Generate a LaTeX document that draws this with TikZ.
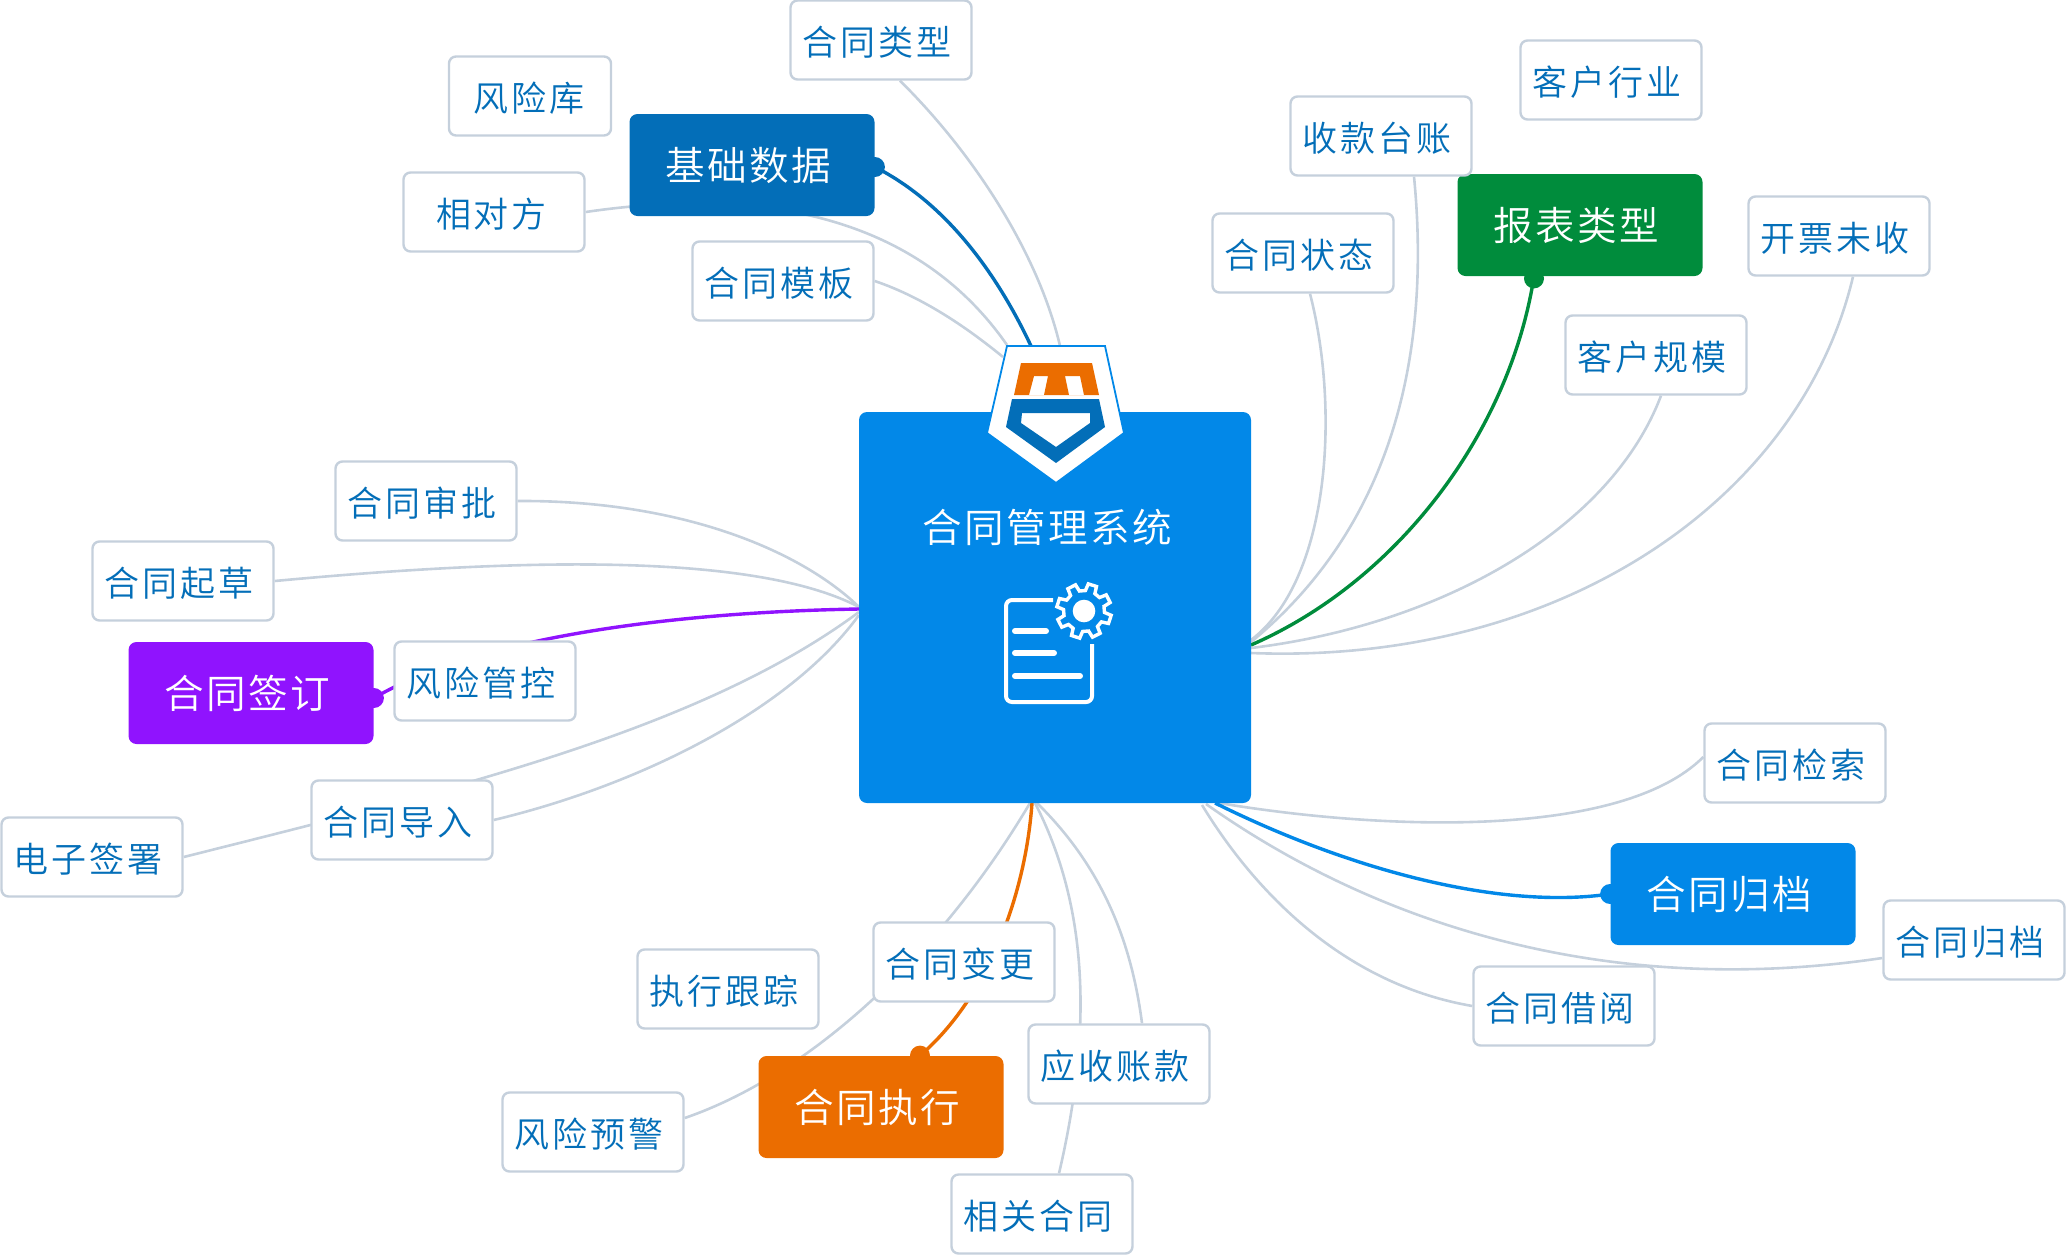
\documentclass[tikz,border=0pt]{standalone}
\usepackage{fontspec}
\newfontfamily\leaffam[LetterSpace=8]{Noto Sans CJK SC DemiLight}
\newfontfamily\mainfam[LetterSpace=6]{Noto Sans CJK SC DemiLight}
\newcommand{\leaffs}{\leaffam\fontsize{17.5pt}{20pt}\selectfont}
\newcommand{\mainfs}{\mainfam\fontsize{19.8pt}{22pt}\selectfont}
\definecolor{gline}{HTML}{C5D0DC}
\definecolor{dblue}{HTML}{036EB8}
\definecolor{lblue}{HTML}{0288E8}
\definecolor{cgreen}{HTML}{008C3C}
\definecolor{cpurple}{HTML}{9013FE}
\definecolor{corange}{HTML}{EB6D00}
\pgfdeclarelayer{lines}
\pgfsetlayers{lines,main}
\tikzset{
  leaf/.style={draw=gline,fill=white,rounded corners=3.5pt,minimum width=90.5pt,minimum height=39.5pt,line width=1.2pt,inner sep=0pt,text=dblue,font=\leaffs,text height=17pt,text depth=2pt,execute at end node={\hspace{4pt}}},
  hub/.style={rounded corners=4pt,minimum width=122.5pt,minimum height=51pt,inner sep=0pt,text=white,font=\mainfs,text height=17.7pt,text depth=2pt,execute at end node={\hspace{4pt}}},
  glink/.style={draw=gline,line width=1.3pt},
  clink/.style={line width=1.7pt},
}
\begin{document}
\begin{tikzpicture}[x=0.5pt,y=-0.5pt]
\useasboundingbox (0,0) rectangle (2066,1254);
\coordinate (cW1) at (859,607);
\coordinate (cW2) at (859,609);
\coordinate (cW3) at (859,612);
\coordinate (cW4) at (859,615);
\coordinate (cE1) at (1251,640);
\coordinate (cE2) at (1251,642);
\coordinate (cE3) at (1251,645);
\coordinate (cE4) at (1251,648);
\coordinate (cE5) at (1251,653);
\coordinate (cS1) at (1030,803);
\coordinate (cS2) at (1032,803);
\coordinate (cS3) at (1035,803);
\coordinate (cS4) at (1037,803);
\coordinate (cS5) at (1202,805);
\coordinate (cS6) at (1206,804);
\coordinate (cS7) at (1215,803);
\coordinate (cS8) at (1219,803);
\coordinate (pT1) at (1060,346);
\coordinate (pT2) at (1031,346);
\coordinate (pT3) at (1007,345);
\coordinate (pT4) at (1003,357);
% central
\node[fill=lblue,rounded corners=4pt,minimum width=196pt,minimum height=195.5pt,inner sep=0pt] (cen) at (1055,607.5) {};
\filldraw[fill=white,draw=lblue,line width=0.9pt] (1007,346) -- (1105,346) -- (1124,433) -- (1056,483) -- (987,433) -- cycle;
\fill[corange,even odd rule] (1021,363) -- (1092,363) -- (1099,395) -- (1014,395) -- cycle
  (1034,376) -- (1048,376) -- (1044,395) -- (1029,395) -- cycle
  (1065,376) -- (1080,376) -- (1084,395) -- (1069,395) -- cycle;
\fill[dblue,even odd rule] (1012,399) -- (1099,399) -- (1105,427) -- (1056,463) -- (1006,427) -- cycle
  (1022,413) -- (1090,413) -- (1090,423) -- (1056,447) -- (1021,423) -- cycle;
\node[text=white,font=\mainfs,inner sep=0pt] (title) at (1047,527) {合同管理系统};
% document icon
\draw[white,line width=2pt,line cap=butt,rounded corners=3pt] (1053,600) -- (1006,600) -- (1006,702) -- (1092,702) -- (1092,644);
\draw[white,line width=3pt,line cap=round] (1015,631) -- (1046,631);
\draw[white,line width=3pt,line cap=round] (1015,653) -- (1054,653);
\draw[white,line width=3pt,line cap=round] (1015,676) -- (1080,676);
\begin{scope}[shift={(1084,611)}]
\draw[white,line width=1.7pt,line join=miter] (4:20.5) \foreach \a in {18,63,108,153,198,243,288,333} { -- (\a-14:20.5) -- (\a-9:27.5) -- (\a+9:27.5) -- (\a+14:20.5) } -- cycle;
\fill[white] (0,0) circle (11.3);
\end{scope}
% hubs
\node[hub,fill=dblue] (jc) at (752,165) {基础数据};
\node[hub,fill=cgreen] (bb) at (1580,225) {报表类型};
\node[hub,fill=cpurple] (qd) at (251,693) {合同签订};
\node[hub,fill=lblue] (gda) at (1733,894) {合同归档};
\node[hub,fill=corange] (zx) at (881,1107) {合同执行};
% leaves
\node[leaf] (ht) at (881,40) {合同类型};
\node[leaf,minimum width=81pt,execute at end node={\hspace{-3pt}}] (fx) at (530,96) {风险库};
\node[leaf,execute at end node={\hspace{-1.5pt}}] (xd) at (494,212) {相对方};
\node[leaf] (mb) at (783,281) {合同模板};
\node[leaf] (hy) at (1611,80) {客户行业};
\node[leaf] (sk) at (1381,136) {收款台账};
\node[leaf] (zt) at (1303,253) {合同状态};
\node[leaf] (kp) at (1839,236) {开票未收};
\node[leaf] (gm) at (1656,355) {客户规模};
\node[leaf] (sp) at (426,501) {合同审批};
\node[leaf] (qc) at (183,581) {合同起草};
\node[leaf] (fk) at (485,681) {风险管控};
\node[leaf] (dr) at (402,820) {合同导入};
\node[leaf] (dz) at (92,857) {电子签署};
\node[leaf] (js) at (1795,763) {合同检索};
\node[leaf] (gd) at (1974,940) {合同归档};
\node[leaf] (jy) at (1564,1006) {合同借阅};
\node[leaf] (bg) at (964,962) {合同变更};
\node[leaf] (gz) at (728,989) {执行跟踪};
\node[leaf] (ys) at (1119,1064) {应收账款};
\node[leaf] (xg) at (1042,1214) {相关合同};
\node[leaf] (yj) at (593,1132) {风险预警};
% connectors, behind everything
\begin{pgfonlayer}{lines}
\draw[glink] ([xshift=9.5pt]ht.south) .. controls (980,160) and (1040,260) .. (pT1);
\draw[glink] (xd.east) .. controls (770,185) and (920,220) .. (pT3);
\draw[glink] (mb.east) .. controls (925,298) and (970,330) .. (pT4);
\draw[glink] ([xshift=3.5pt]zt.south) .. controls (1340,410) and (1330,580) .. (cE1);
\draw[glink] ([xshift=16.5pt]sk.south) .. controls (1430,340) and (1400,520) .. (cE2);
\draw[glink] ([xshift=2.5pt]gm.south) .. controls (1610,530) and (1440,625) .. (cE4);
\draw[glink] ([xshift=7pt]kp.south) .. controls (1800,500) and (1560,665) .. (cE5);
\draw[glink] (sp.east) .. controls (680,500) and (800,550) .. (cW1);
\draw[glink] (qc.east) .. controls (500,560) and (750,550) .. (cW1);
\draw[glink] (dz.east) .. controls (450,790) and (700,730) .. (cW3);
\draw[glink] (dr.east) .. controls (640,785) and (790,710) .. (cW4);
\draw[glink] ([yshift=7pt]yj.east) .. controls (810,1075) and (940,955) .. (cS1);
\draw[glink] ([xshift=8.5pt]xg.north) .. controls (1095,1020) and (1085,900) .. (cS3);
\draw[glink] ([xshift=11.5pt]ys.north) .. controls (1130,930) and (1095,860) .. (cS4);
\draw[glink] (jy.west) .. controls (1350,985) and (1260,900) .. (cS5);
\draw[glink] ([yshift=-9pt]gd.west) .. controls (1600,1000) and (1370,920) .. (cS6);
\draw[glink] ([yshift=3pt]js.west) .. controls (1620,840) and (1380,830) .. (cS8);
% coloured
\draw[clink,dblue] ([yshift=-1pt]jc.east) .. controls (950,205) and (1000,280) .. (pT2);
\fill[dblue] ([yshift=-1pt]jc.east) circle (10);
\draw[clink,cgreen] ([xshift=-23pt]bb.south) .. controls (1510,430) and (1400,580) .. (cE3);
\fill[cgreen] ([xshift=-23pt,yshift=-1pt]bb.south) circle (10);
\draw[clink,cpurple] ([yshift=-2.5pt]qd.east) .. controls (480,636) and (680,612) .. (cW2);
\fill[cpurple] ([yshift=-2.5pt]qd.east) circle (10);
\draw[clink,lblue] (gda.west) .. controls (1500,910) and (1350,870) .. (cS7);
\fill[lblue] (gda.west) circle (10);
\draw[clink,corange] ([xshift=19.5pt]zx.north) .. controls (985,1000) and (1025,900) .. (cS2);
\fill[corange] ([xshift=19.5pt]zx.north) circle (10);
\end{pgfonlayer}
\end{tikzpicture}
\end{document}
